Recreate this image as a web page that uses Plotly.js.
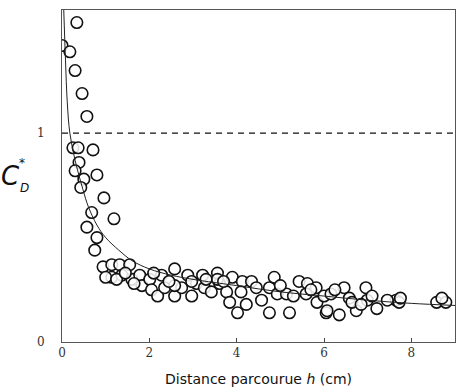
<!DOCTYPE html>
<html><head><meta charset="utf-8">
<script src="https://cdn.plot.ly/plotly-3.0.1.min.js"></script>
<style>body{margin:0;background:#fff}#c{width:461px;height:392px}</style>
</head><body><div id="c"></div>
<script>
const xTicks = [0, 2, 4, 6, 8];
const yTicks = [0, 1];
const refLevel = 1;
const pointsX = [0.34,0.00,0.18,0.30,0.46,0.57,0.25,0.37,0.71,0.39,0.30,0.80,0.50,0.43,0.96,0.68,1.19,0.57,0.80,0.75,
  0.94,1.14,1.32,1.55,1.14,1.37,1.60,1.78,1.83,2.01,2.05,2.19,2.28,2.35,2.58,2.58,2.74,2.88,2.97,3.08,3.22,3.26,
  3.56,3.61,3.42,3.77,3.90,4.13,4.34,3.84,4.22,4.02,4.57,4.75,4.86,4.93,4.75,5.14,5.21,5.43,5.62,5.59,5.82,5.84,6.00,6.05,
  6.16,6.07,6.35,6.46,6.58,6.74,6.64,6.96,6.99,7.21,7.65,7.72,8.58,8.79,2.58,2.97,3.56,
  1.00,1.25,1.45,1.65,2.10,2.45,3.30,3.70,4.10,4.45,5.00,5.30,5.70,6.25,6.85,7.10,7.45,7.75,8.70];
const pointsY = [1.53,1.42,1.39,1.30,1.19,1.08,0.93,0.93,0.92,0.86,0.82,0.80,0.78,0.74,0.69,0.62,0.59,0.55,0.50,0.44,
  0.36,0.37,0.37,0.37,0.31,0.32,0.30,0.32,0.27,0.30,0.25,0.22,0.32,0.26,0.35,0.22,0.26,0.32,0.22,0.28,0.32,0.26,
  0.33,0.28,0.24,0.24,0.31,0.29,0.29,0.19,0.18,0.14,0.20,0.26,0.31,0.23,0.14,0.23,0.14,0.29,0.28,0.23,0.26,0.19,0.22,0.14,
  0.23,0.15,0.13,0.26,0.21,0.15,0.19,0.26,0.20,0.16,0.20,0.19,0.19,0.19,0.27,0.29,0.30,
  0.31,0.30,0.33,0.28,0.33,0.29,0.30,0.29,0.24,0.26,0.27,0.22,0.25,0.25,0.18,0.22,0.20,0.21,0.21];
const fitX = [0.04,0.08,0.12,0.18,0.30,0.48,0.60,0.80,1.00,1.30,1.60,2.00,2.50,3.00,4.00,5.00,6.00,7.00,8.00,9.00];
const fitY = [1.59,1.35,1.15,1.00,0.87,0.73,0.65,0.56,0.50,0.44,0.39,0.35,0.32,0.30,0.27,0.24,0.22,0.20,0.185,0.175];

const data = [
  {x: [0, 9], y: [refLevel, refLevel], mode: 'lines', line: {color: '#111', width: 1.3, dash: '6px,5px'}, hoverinfo: 'skip'},
  {x: pointsX, y: pointsY, mode: 'markers', marker: {symbol: 'circle', size: 11.5, color: 'rgba(255,255,255,0.85)', line: {color: '#111', width: 1.6}}},
  {x: fitX, y: fitY, mode: 'lines', line: {color: '#222', width: 1, shape: 'spline'}}
];
const layout = {
  width: 461, height: 392, showlegend: false,
  margin: {l: 62, r: 6, t: 10, b: 50},
  paper_bgcolor: '#fff', plot_bgcolor: '#fff',
  font: {family: 'DejaVu Serif', color: '#222'},
  xaxis: {range: [0, 9], tickvals: xTicks, ticktext: xTicks.map(String), ticks: 'inside', ticklen: 4,
    showgrid: false, zeroline: false, showline: true, linecolor: '#555', linewidth: 1, mirror: true,
    tickfont: {size: 12, family: 'DejaVu Serif', color: '#333'},
    title: {text: 'Distance parcourue <i>h</i> (cm)', font: {family: 'DejaVu Sans', size: 14, color: '#111'}, standoff: 14}},
  yaxis: {range: [0, 1.59], tickvals: yTicks, ticktext: yTicks.map(String), ticks: '', ticklen: 0,
    showgrid: false, zeroline: false, showline: true, linecolor: '#555', linewidth: 1, mirror: true,
    tickfont: {size: 12, family: 'DejaVu Serif', color: '#333'}, ticklabelstandoff: 14},
  annotations: [
    {xref: 'paper', yref: 'paper', x: -0.16, y: 0.5, text: '<i>C</i>', showarrow: false, font: {family: 'DejaVu Sans', size: 26, color: '#111'}},
    {xref: 'paper', yref: 'paper', x: -0.115, y: 0.54, text: '*', showarrow: false, font: {family: 'DejaVu Sans', size: 12, color: '#111'}},
    {xref: 'paper', yref: 'paper', x: -0.112, y: 0.465, text: '<i>D</i>', showarrow: false, font: {family: 'DejaVu Sans', size: 12, color: '#111'}}
  ]
};
Plotly.newPlot('c', data, layout, {displayModeBar: false, staticPlot: true});
</script></body></html>
